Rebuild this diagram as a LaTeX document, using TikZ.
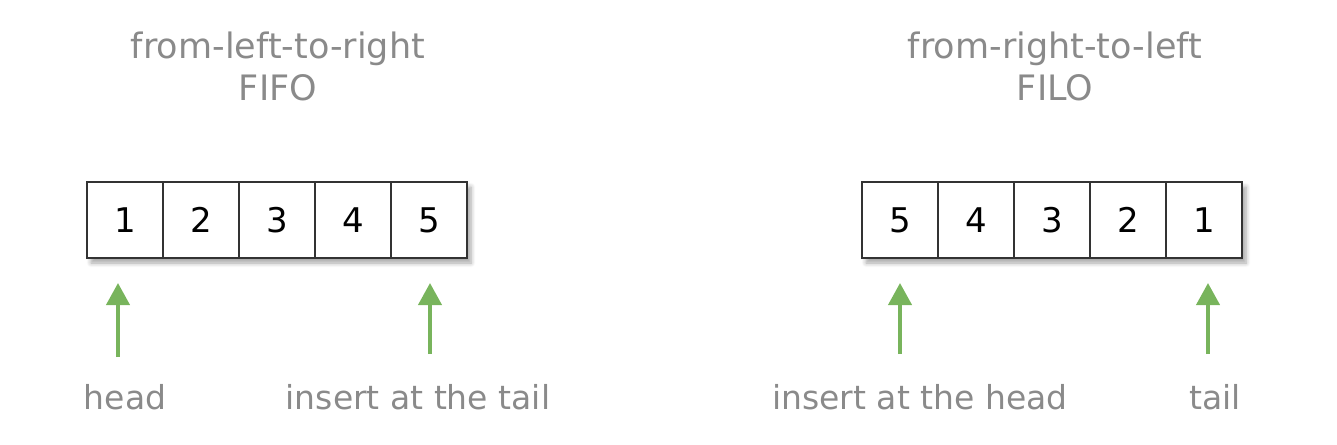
\documentclass[tikz,border=0pt]{standalone}
\usepackage{fontspec}
\setmainfont{DejaVu Sans}
\usetikzlibrary{positioning,arrows.meta,shadows.blur,backgrounds}

\definecolor{labelgray}{RGB}{138,138,138}
\definecolor{arrowgreen}{RGB}{120,180,92}

\tikzset{
  cell/.style={draw=black!80, line width=0.9pt, fill=white, minimum width=38pt,
    minimum height=38pt, inner sep=0pt, outer sep=0pt,
    font=\fontsize{17}{20}\selectfont},
  rowshadow/.style={fill=white, blur shadow={shadow xshift=2pt, shadow yshift=-2.5pt,
    shadow blur steps=6, shadow opacity=35}},
  title/.style={align=center, text=labelgray, font=\fontsize{17.5}{21}\selectfont},
  caption/.style={text=labelgray, font=\fontsize{16.5}{20}\selectfont},
  uparrow/.style={draw=arrowgreen, line width=2pt,
    -{Triangle[width=11.5pt,length=11pt]}, shorten >=12.5pt}
}

\begin{document}
\begin{tikzpicture}[x=0.5pt,y=-0.5pt]
  \useasboundingbox (0,0) rectangle (1337,444);

  % titles
  \node[title] (ttl) at (278,66) {from-left-to-right\\FIFO};
  \node[title] (ttr) at (1055,66) {from-right-to-left\\FILO};

  % left queue
  \node[cell] (l1) at (125,220) {1};
  \node[cell, right=0pt of l1] (l2) {2};
  \node[cell, right=0pt of l2] (l3) {3};
  \node[cell, right=0pt of l3] (l4) {4};
  \node[cell, right=0pt of l4] (l5) {5};

  % right queue
  \node[cell] (r1) at (900,220) {5};
  \node[cell, right=0pt of r1] (r2) {4};
  \node[cell, right=0pt of r2] (r3) {3};
  \node[cell, right=0pt of r3] (r4) {2};
  \node[cell, right=0pt of r4] (r5) {1};

  % shadows behind both rows
  \begin{scope}[on background layer]
    \path[rowshadow] (l1.north west) rectangle (l5.south east);
    \path[rowshadow] (r1.north west) rectangle (r5.south east);
  \end{scope}

  % labels
  \node[caption] (lhd) at (125,397) {head};
  \node[caption] (ltl) at (418,397) {insert at the tail};
  \node[caption] (rhd) at (920,397) {insert at the head};
  \node[caption] (rtl) at (1215,397) {tail};

  % arrows
  \coordinate (lhdfoot) at (118,357);
  \coordinate (ltlfoot) at (430,354);
  \coordinate (rhdfoot) at (900,354);
  \coordinate (rtlfoot) at (1208,354);
  \draw[uparrow] (lhdfoot) -- (lhdfoot |- l1.south);
  \draw[uparrow] (ltlfoot) -- (ltlfoot |- l5.south);
  \draw[uparrow] (rhdfoot) -- (rhdfoot |- r1.south);
  \draw[uparrow] (rtlfoot) -- (rtlfoot |- r5.south);
\end{tikzpicture}
\end{document}
